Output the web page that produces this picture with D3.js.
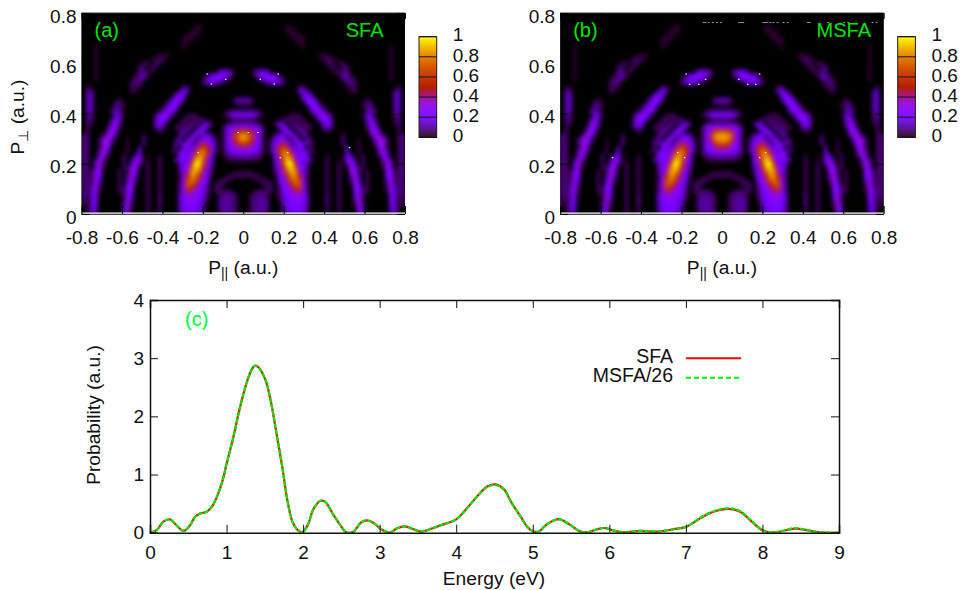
<!DOCTYPE html>
<html><head><meta charset="utf-8">
<script src="https://cdn.jsdelivr.net/npm/d3@7"></script>
<style>html,body{margin:0;background:#fff}svg{display:block}text{font-family:"Liberation Sans",Arial,sans-serif;fill:#111}</style>
</head><body><svg id="c" width="961" height="590"></svg>
<script>
// momentum map: one entry per row (P_perp=0.8 at top), each [firstColumnOutFromCentre, base-36 values]; value = digit/35
const heatRows = [
[],[],[],
[[11,"11"]],
[[11,"111"]],
[[12,"111"]],
[[13,"111"]],
[[14,"11"]],
[[15,"1"],[37,"1"]],
[[37,"1"]],
[[19,"111"],[37,"1"]],
[[20,"2221"],[37,"1"]],
[[21,"22022"],[37,"1"]],
[[22,"22023"],[37,"1"]],
[[3,"3565"],[23,"2133"],[37,"1"]],
[[3,"3689863"],[24,"2441"],[37,"1"]],
[[4,"3799852"],[25,"3431"],[37,"1"]],
[[6,"35653"],[26,"232"]],
[[14,"23"],[26,"122"],[39,"2"]],
[[14,"574"],[27,"12"],[38,"34"]],
[[15,"796"],[38,"45"]],
[[0,"443"],[15,"4995"],[31,"2"],[38,"45"]],
[[0,"332"],[16,"7a83"],[30,"123"],[38,"45"]],
[[17,"8a72"],[30,"134"],[38,"45"]],
[[0,"44432"],[17,"49a62"],[31,"353"],[38,"35"]],
[[0,"888731"],[12,"222"],[18,"38a83"],[30,"156"],[38,"24"]],
[[0,"22210"],[10,"232122"],[19,"6994"],[31,"593"],[38,"23"]],
[[0,"444320"],[8,"264"],[12,"33122"],[20,"685"],[31,"3a6"],[38,"13"]],
[[0,"bba972"],[9,"596"],[13,"342"],[16,"22"],[20,"354"],[31,"2aa2"],[39,"2"]],
[[0,"lkhb82"],[10,"5a6"],[14,"342"],[21,"2"],[32,"6b5"],[39,"2"]],
[[0,"vsmd82"],[8,"476386"],[15,"43"],[25,"2"],[32,"3bb3"],[39,"23"]],
[[0,"tqkc82"],[7,"269a5295"],[16,"42"],[25,"3"],[29,"1"],[33,"5bb3"],[39,"23"]],
[[0,"mkga82"],[7,"38cgb4"],[13,"496"],[16,"43"],[25,"3"],[29,"1"],[33,"3bb2"],[39,"23"]],
[[0,"edb972"],[7,"39hmja5"],[14,"97"],[17,"3"],[26,"4"],[29,"1"],[34,"9b2"],[39,"23"]],
[[0,"aa9851"],[7,"39irqg9"],[14,"595"],[17,"21"],[26,"6"],[29,"2"],[34,"5c5"],[39,"23"]],
[[0,"554431"],[8,"8fquob8"],[15,"97"],[21,"1"],[24,"1"],[26,"74"],[30,"2"],[34,"2b6"],[39,"23"]],
[[0,"22221"],[8,"6cnwte9"],[15,"794"],[21,"2"],[25,"17a3"],[30,"2"],[35,"5b3"],[39,"23"]],
[[8,"5bkxzl97"],[16,"4"],[21,"2"],[24,"2"],[26,"4b5"],[30,"2"],[35,"2c6"],[39,"23"]],
[[8,"39gtxqb8"],[16,"4"],[21,"2"],[24,"2"],[26,"1aa2"],[30,"2"],[35,"1b6"],[39,"23"]],
[[0,"111"],[8,"28dovte8"],[16,"3"],[21,"2"],[24,"2"],[27,"8b2"],[31,"2"],[36,"9a2"],[39,"23"]],
[[0,"22221"],[8,"17bjrti9"],[16,"2"],[21,"2"],[24,"2"],[27,"5c4"],[31,"2"],[36,"8a2"],[39,"23"]],
[[3,"1221"],[9,"6aeorma"],[16,"2"],[21,"2"],[24,"2"],[27,"3b5"],[31,"2"],[36,"5a3"],[39,"23"]],
[[5,"222"],[9,"49bioob"],[16,"3"],[21,"2"],[24,"2"],[27,"1a7"],[31,"2"],[36,"3b3"],[39,"23"]],
[[6,"22"],[9,"38adjlb"],[16,"3"],[21,"2"],[24,"2"],[28,"992"],[31,"2"],[36,"2a5"],[39,"23"]],
[[3,"23322"],[9,"279adfa"],[16,"3"],[21,"2"],[24,"2"],[28,"7a2"],[31,"2"],[36,"1a5"],[39,"23"]],
[[2,"23332"],[9,"268abb9"],[16,"5"],[21,"3"],[24,"2"],[28,"5b2"],[37,"95"],[39,"23"]],
[[2,"23443"],[9,"1579aa8"],[16,"5"],[21,"3"],[24,"2"],[28,"4b2"],[37,"85"],[39,"12"]],
[[2,"23443"],[10,"478998"],[16,"4"],[21,"3"],[24,"2"],[28,"2b3"],[37,"66"],[39,"12"]],
[[2,"23443"],[10,"367887"],[16,"4"],[21,"2"],[24,"2"],[28,"1a4"],[37,"56"],[39,"1"]],
[[2,"23332"],[10,"356776"],[16,"3"],[21,"2"],[24,"2"],[29,"94"],[37,"45"],[39,"1"]]
];
// panel (b) differs in the central spot: [row, values from the centre]
const centreB = [[28,"bbba82"],[29,"onkc92"],[30,"vusf92"],[31,"ttpe92"],[32,"onka92"],[33,"gfc982"],[34,"bba962"]];
const specksA = [[-.178,.557],[-.158,.517],[-.087,.536],[-.025,.324],[.025,.324],[.073,.324],[-.223,.244],[.084,.536],[.153,.517],[.173,.557],[.219,.244],[.183,.224],[.525,.264]];
const specksB = [[-.177,.557],[-.16,.516],[-.115,.516],[-.081,.536],[.083,.536],[.127,.516],[.167,.516],[.186,.557],[-.219,.244],[-.185,.224],[-.541,.224],[.186,.224],[.216,.244]];
const noiseB = [-.095,-.085,-.07,-.05,-.03,-.01,.08,.09,.1,.2,.21,.22,.235,.25,.27,.3,.32,.42,.43,.52,.6,.62,.74,.76];
const heatXTicks = [-0.8,-0.6,-0.4,-0.2,0,0.2,0.4,0.6,0.8];
const heatYTicks = [0,0.2,0.4,0.6,0.8];
const barTicks = [0,0.2,0.4,0.6,0.8,1];
const energy = [0,.09,.175,.26,.33,.42,.46,.525,.59,.656,.74,.81,.875,.94,1,1.09,1.18,1.27,1.335,1.37,1.42,1.51,1.575,1.66,1.73,1.79,1.86,1.925,1.99,2.06,2.14,2.23,2.29,2.385,2.47,2.56,2.65,2.76,2.845,2.93,3.02,3.13,3.22,3.33,3.44,3.54,3.68,3.8,4,4.14,4.27,4.4,4.51,4.62,4.73,4.84,4.93,5.01,5.08,5.19,5.34,5.47,5.62,5.73,5.84,5.95,6.06,6.19,6.4,6.62,6.84,7,7.19,7.36,7.56,7.71,7.86,7.99,8.1,8.23,8.42,8.58,8.75,9];
const sfa = [0,.05,.19,.23,.15,.04,.04,.13,.275,.33,.36,.45,.62,.86,1.18,1.65,2.18,2.61,2.82,2.87,2.84,2.62,2.28,1.65,1.11,.59,.19,.05,.01,.13,.42,.55,.53,.33,.16,.01,.01,.18,.21,.16,.06,0,.07,.11,.06,.02,.07,.13,.23,.42,.62,.79,.83,.75,.5,.28,.1,.02,.02,.15,.235,.15,.02,.01,.06,.08,.035,.005,.03,.02,.06,.1,.25,.36,.41,.36,.19,.05,.005,.02,.07,.045,.005,0];
const msfa = [0,.05,.19,.23,.15,.04,.04,.13,.275,.33,.36,.45,.62,.86,1.18,1.65,2.18,2.61,2.82,2.87,2.83,2.62,2.28,1.65,1.11,.59,.19,.05,.01,.13,.42,.55,.53,.33,.16,.01,.01,.18,.21,.16,.06,0,.07,.11,.06,.02,.07,.13,.23,.42,.62,.78,.82,.75,.5,.28,.1,.02,.02,.15,.23,.15,.02,.01,.06,.08,.035,.005,.03,.02,.06,.1,.26,.37,.42,.37,.2,.05,.005,.02,.08,.045,.005,0];
const energyTicks = [0,1,2,3,4,5,6,7,8,9];
const probTicks = [0,1,2,3,4];
const FS = 19, LS = 19.2, IS = 20;

const svg = d3.select("#c");
const defs = svg.append("defs");
const f = defs.append("filter").attr("id","soft").attr("x",0).attr("y",0).attr("width",1).attr("height",1)
  .attr("color-interpolation-filters","sRGB");
f.append("feGaussianBlur").attr("stdDeviation",2).attr("edgeMode","duplicate");
const palette = d3.scaleSequential(t => d3.rgb(255*Math.sqrt(t),255*t*t*t,255*Math.max(Math.sin(2*Math.PI*t),0)).toString()).domain([0,1]);
function buildGrid(over){
  const m = heatRows.map(()=>new Array(41).fill(0));
  heatRows.forEach((segs,r)=>segs.forEach(([c0,s])=>{ for(let i=0;i<s.length;i++) m[r][c0+i]=parseInt(s[i],36)/35; }));
  over.forEach(([r,s])=>{ for(let i=0;i<s.length;i++) m[r][i]=parseInt(s[i],36)/35; });
  const out=[];
  m.forEach((row,r)=>row.forEach((v,c)=>{ out.push({r,c,v}); if(c) out.push({r,c:-c,v}); }));
  return out;
}

function heat(left,label,tag,specks,noise,grid,insetRight){
  const x0=left,x1=left+323.5,y0=214,y1=13;
  const x=d3.scaleLinear().domain([-.8,.8]).range([x0,x1]);
  const y=d3.scaleLinear().domain([0,.8]).range([y0,y1]);
  const bx=d3.scaleBand().domain(d3.range(-40,41)).range([x0,x1]);
  const by=d3.scaleBand().domain(d3.range(0,50)).range([y1,y0]);
  const id="clip"+tag;
  defs.append("clipPath").attr("id",id).append("rect").attr("x",x0).attr("y",y1).attr("width",x1-x0).attr("height",y0-y1);
  const g=svg.append("g");
  g.append("rect").attr("x",x0).attr("y",y1).attr("width",x1-x0).attr("height",y0-y1).attr("fill","#000");
  g.append("g").attr("clip-path",`url(#${id})`).append("g").attr("filter","url(#soft)")
   .selectAll("rect").data(grid).join("rect")
   .attr("x",d=>bx(d.c)).attr("y",d=>by(d.r)).attr("width",bx.bandwidth()+.5).attr("height",by.bandwidth()+.5)
   .attr("fill",d=>palette(d.v));
  g.selectAll("rect.s").data(specks).join("rect").attr("class","s").attr("x",d=>x(d[0])-.7).attr("y",d=>y(d[1])-.6).attr("width",1.5).attr("height",1.1).attr("fill","#fff");
  g.selectAll("rect.n").data(noise).join("rect").attr("class","n").attr("x",d=>x(d)).attr("y",y(.764)).attr("width",2).attr("height",1).attr("fill","#999");
  g.append("line").attr("x1",x0).attr("x2",x1).attr("y1",y0-.8).attr("y2",y0-.8).attr("stroke","#fff").attr("stroke-width",1.3);
  g.append("line").attr("x1",x0).attr("x2",x1).attr("y1",y0+.5).attr("y2",y0+.5).attr("stroke","#444").attr("stroke-width",1);
  g.append("line").attr("x1",x0).attr("x2",x1).attr("y1",y1).attr("y2",y1).attr("stroke","#333").attr("stroke-width",1);
  const ax=g.append("g").attr("transform",`translate(0,${y0})`).call(d3.axisBottom(x).tickValues(heatXTicks).tickSize(-8).tickPadding(17).tickFormat(String));
  const ay=g.append("g").attr("transform",`translate(${x0},0)`).call(d3.axisLeft(y).tickValues(heatYTicks).tickSize(-8).tickPadding(5).tickFormat(String));
  g.append("g").attr("transform",`translate(0,${y1})`).call(d3.axisTop(x).tickValues(heatXTicks).tickSize(-6).tickFormat(""));
  g.append("g").attr("transform",`translate(${x1},0)`).call(d3.axisRight(y).tickValues(heatYTicks).tickSize(-8).tickFormat(""));
  g.selectAll(".domain").remove();
  g.selectAll(".tick line").attr("stroke","#000").attr("stroke-width",1);
  g.selectAll(".tick text").attr("font-size",FS).attr("font-family",'"Liberation Sans"').attr("fill","#111");
  ay.selectAll("text").attr("dy","0.48em");
  const bL=left+337.5,bW=17.7;
  const by2=d3.scaleLinear().domain([0,1]).range([137.3,36.7]);
  const steps=d3.range(0,100).map(i=>i/100);
  g.selectAll("rect.b").data(steps).join("rect").attr("class","b").attr("x",bL).attr("width",bW)
   .attr("y",d=>by2(d+.01)).attr("height",by2(0)-by2(.01)+.4).attr("fill",d=>palette(d+.005));
  g.append("rect").attr("x",bL).attr("y",36.7).attr("width",bW).attr("height",100.6).attr("fill","none").attr("stroke","#222").attr("stroke-width",1);
  const bar=g.append("g").attr("transform",`translate(${bL+bW},0)`).call(d3.axisRight(by2).tickValues(barTicks).tickSize(0).tickPadding(16).tickFormat(String));
  bar.select(".domain").remove();
  bar.selectAll("text").attr("font-size",FS).attr("font-family",'"Liberation Sans"').attr("fill","#111").attr("dy","0.22em");
  g.selectAll("line.bt").data(barTicks).join("line").attr("class","bt").attr("x1",bL).attr("x2",bL+bW).attr("y1",d=>by2(d)).attr("y2",d=>by2(d)).attr("stroke","#111").attr("stroke-width",1);
  g.append("text").attr("x",left+13).attr("y",37).attr("font-size",IS).style("fill","#00e600").text(label);
  g.append("text").attr("x",insetRight).attr("y",37).attr("text-anchor","end").attr("font-size",IS).style("fill","#00e600").text(tag==="a"?"SFA":"MSFA");
  const xl=g.append("text").attr("x",(x0+x1)/2).attr("y",274).attr("text-anchor","middle").attr("font-size",LS);
  xl.append("tspan").text("P");
  xl.append("tspan").attr("font-size",14).attr("dy",4).text("||");
  xl.append("tspan").attr("dy",-4).text(" (a.u.)");
}
heat(81.5,"(a)","a",specksA,[],buildGrid([]),383.5);
heat(560.2,"(b)","b",specksB,noiseB,buildGrid(centreB),871);
const yl=svg.append("text").attr("transform","translate(24,117) rotate(-90)").attr("text-anchor","middle").attr("font-size",LS);
yl.append("tspan").text("P");
yl.append("tspan").attr("font-size",14).attr("dy",4).text("\u22a5");
yl.append("tspan").attr("dy",-4).text(" (a.u.)");

const X=d3.scaleLinear().domain([0,9]).range([150,839]);
const Y=d3.scaleLinear().domain([0,4]).range([532.7,300]);
const gc=svg.append("g");
const line=d3.line().x((d,i)=>X(energy[i])).y(d=>Y(d)).curve(d3.curveCatmullRom.alpha(.5));
gc.append("path").datum(sfa).attr("d",line).attr("fill","none").attr("stroke","#f00").attr("stroke-width",2.2);
gc.append("path").datum(msfa).attr("d",line).attr("fill","none").attr("stroke","#00e800").attr("stroke-width",2.2).attr("stroke-dasharray","5 1.5");
gc.append("g").attr("transform","translate(0,532.7)").call(d3.axisBottom(X).tickValues(energyTicks).tickSize(-8).tickPadding(13).tickFormat(String));
gc.append("g").attr("transform","translate(150,0)").call(d3.axisLeft(Y).tickValues(probTicks).tickSize(-8).tickPadding(6).tickFormat(String));
gc.append("g").attr("transform","translate(0,300)").call(d3.axisTop(X).tickValues(energyTicks).tickSize(-8).tickFormat(""));
gc.append("g").attr("transform","translate(839,0)").call(d3.axisRight(Y).tickValues(probTicks).tickSize(-8).tickFormat(""));
gc.selectAll(".domain").attr("stroke","#111").attr("stroke-width",1.5);
gc.selectAll(".tick line").attr("stroke","#111").attr("stroke-width",1);
gc.selectAll(".tick text").attr("font-size",FS).attr("font-family",'"Liberation Sans"').attr("fill","#111");
gc.append("text").attr("x",185).attr("y",326).attr("font-size",IS).style("fill","#00ff40").text("(c)");
gc.append("text").attr("x",673).attr("y",362.5).attr("text-anchor","end").attr("font-size",19.5).text("SFA");
gc.append("text").attr("x",673).attr("y",382).attr("text-anchor","end").attr("font-size",19.5).text("MSFA/26");
gc.append("line").attr("x1",686).attr("x2",741).attr("y1",358.3).attr("y2",358.3).attr("stroke","#f00").attr("stroke-width",2);
gc.append("line").attr("x1",686).attr("x2",741).attr("y1",377.7).attr("y2",377.7).attr("stroke","#00f000").attr("stroke-width",2).attr("stroke-dasharray","5 3");
gc.append("text").attr("x",494).attr("y",585).attr("text-anchor","middle").attr("font-size",LS).text("Energy (eV)");
gc.append("text").attr("transform","translate(100,415) rotate(-90)").attr("text-anchor","middle").attr("font-size",LS).text("Probability (a.u.)");
</script></body></html>
